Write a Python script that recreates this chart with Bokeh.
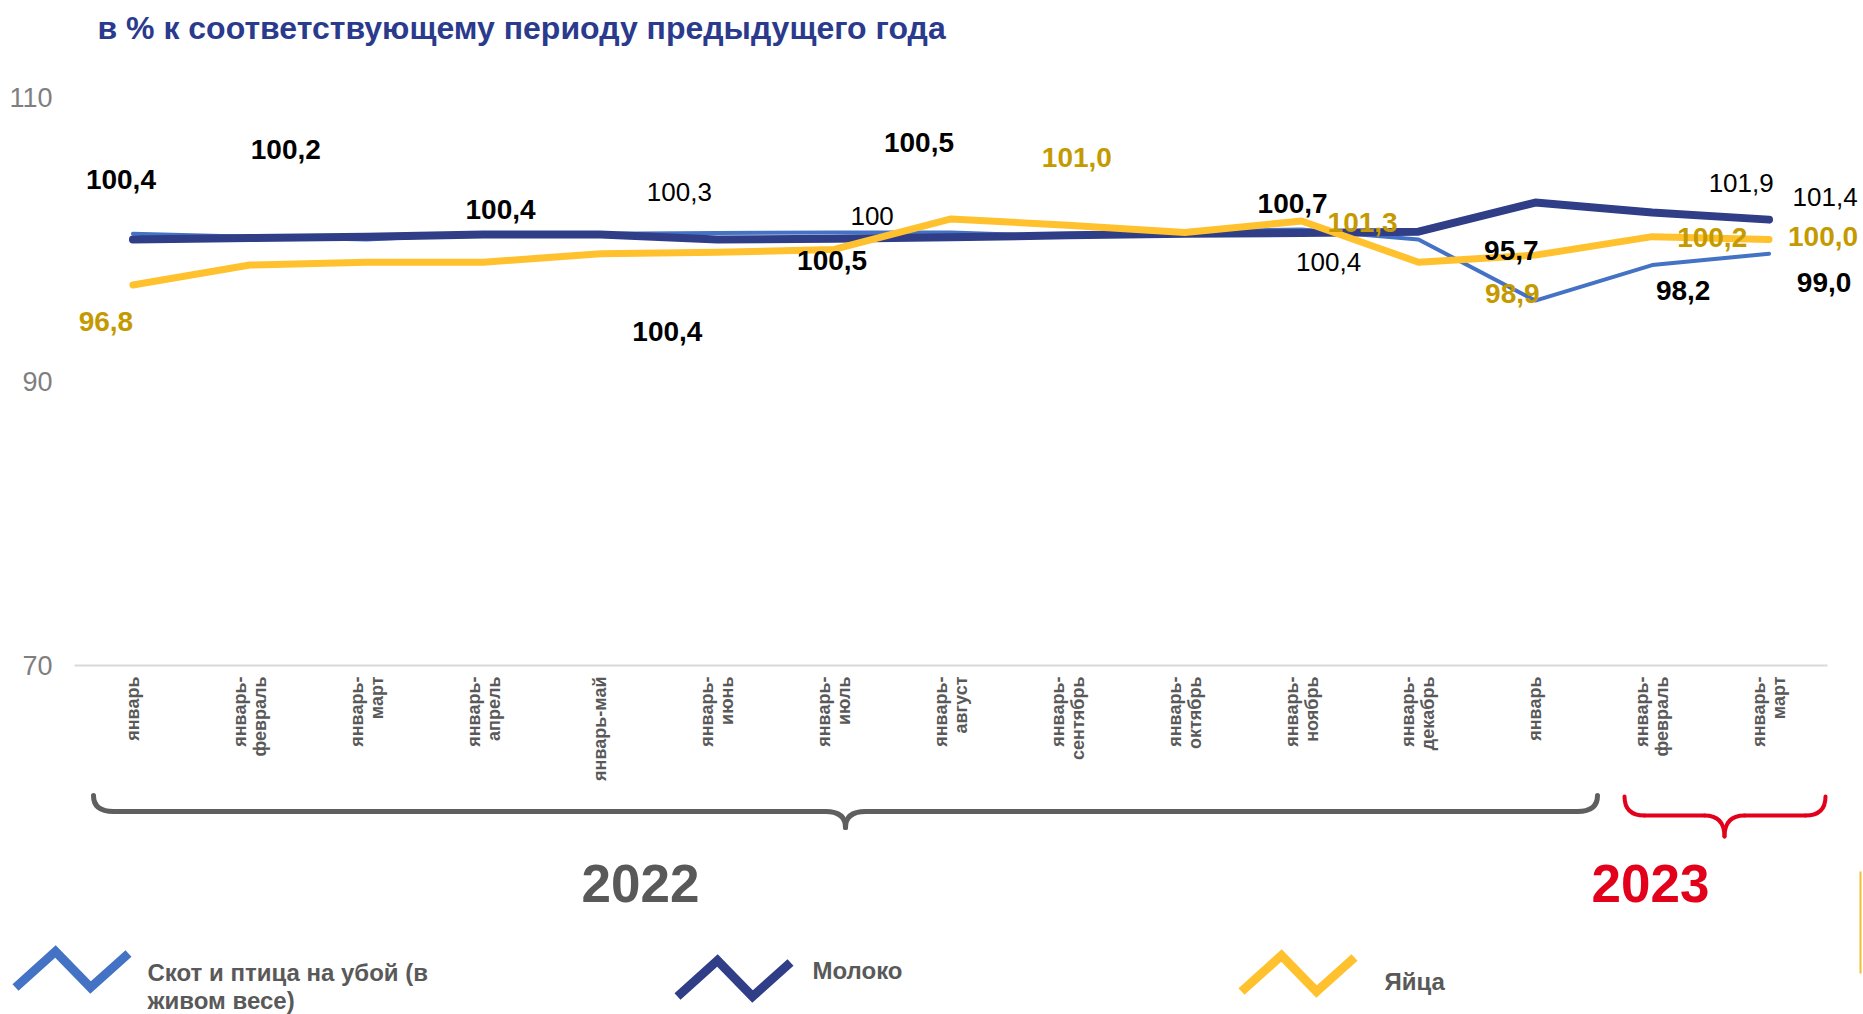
import math
from bokeh.plotting import figure
from bokeh.models import Range1d, FixedTicker, ColumnDataSource, LabelSet
from bokeh.embed import file_html
from bokeh.resources import INLINE
from bokeh.core.properties import value

# ---------------- data ----------------
periods = ["январь", "январь-\nфевраль", "январь-\nмарт", "январь-\nапрель", "январь-май",
           "январь-\nиюнь", "январь-\nиюль", "январь-\nавгуст", "январь-\nсентябрь",
           "январь-\nоктябрь", "январь-\nноябрь", "январь-\nдекабрь",
           "январь", "январь-\nфевраль", "январь-\nмарт"]
years = ["2022", "2023"]
series_names = ["Скот и птица на убой (в\nживом весе)", "Молоко", "Яйца"]
livestock = [100.4, 100.2, 100.0, 100.4, 100.4, 100.45, 100.5, 100.5, 100.2, 100.6, 100.7, 100.0, 95.7, 98.2, 99.0]
milk = [100.0, 100.1, 100.2, 100.35, 100.35, 100.0, 100.05, 100.15, 100.3, 100.4, 100.45, 100.55, 102.6, 101.9, 101.4]
eggs = [96.8, 98.2, 98.4, 98.4, 99.0, 99.1, 99.3, 101.45, 101.0, 100.5, 101.3, 98.4, 98.9, 100.2, 100.0]
y_ticks = [70, 90, 110]
title_text = "в % к соответствующему периоду предыдущего года"

# data labels: (index, text)
livestock_labels = [(0, "100,4"), (1, "100,2"), (3, "100,4"), (4, "100,4"), (6, "100,5"), (7, "100,5"),
                    (10, "100,7"), (12, "95,7"), (13, "98,2"), (14, "99,0")]
milk_labels = [(4, "100,3"), (6, "100"), (10, "100,4"), (13, "101,9"), (14, "101,4")]
eggs_labels = [(0, "96,8"), (8, "101,0"), (10, "101,3"), (12, "98,9"), (13, "100,2"), (14, "100,0")]

# label placement offsets in pixels (dx right, dy down)
livestock_off = {0: (-12, -54), 1: (36, -87), 3: (17, -24), 4: (67, 98), 6: (-2, 28), 7: (-32, -90),
                 10: (-9, -26), 12: (-24, -50), 13: (31, 25), 14: (55, 29)}
milk_off = {4: (79, -43), 6: (38, -23), 10: (27, 29), 13: (89, -30), 14: (56, -23)}
eggs_off = {0: (-27, 37), 8: (9, -68), 10: (61, 1), 12: (-23, 38), 13: (60, 1), 14: (54, -3)}

# ---------------- styles / layout ----------------
C_LIVE = "#4472C4"
C_MILK = "#2F3E87"
C_EGGS = "#FFC22E"
C_GOLD = "#C49A00"
C_TITLE = "#2A3A8C"
C_GRAY = "#595959"
C_RED = "#E2001A"
FONT = "Liberation Sans"

W, H = 1863, 1014           # canvas spans the page
PLOT_L, PLOT_R = 74, 1827   # page x of category band edges
Y_TOP, Y_BOT = 97, 665      # page y of 110 and 70
n = len(periods)
ppx = (PLOT_R - PLOT_L) / n
ppy = (Y_BOT - Y_TOP) / (y_ticks[-1] - y_ticks[0])


def px2x(px):
    return -0.5 + (px - PLOT_L) / ppx


def px2y(py):
    return y_ticks[-1] - (py - Y_TOP) / ppy


p = figure(width=W, height=H, output_backend="svg", toolbar_location=None,
           x_range=Range1d(px2x(0), px2x(W)), y_range=Range1d(px2y(H), px2y(0)),
           min_border=0)
p.outline_line_color = None
p.xgrid.grid_line_color = None
p.ygrid.grid_line_color = None
p.background_fill_color = "white"
p.border_fill_color = "white"

xs = list(range(n))
p.line(xs, livestock, line_color=C_LIVE, line_width=4, line_join="round", line_cap="round")
p.line(xs, milk, line_color=C_MILK, line_width=8, line_join="round", line_cap="round")
p.line(xs, eggs, line_color=C_EGGS, line_width=7, line_join="round", line_cap="round")

# axes (fixed inside the canvas)
p.yaxis.fixed_location = -0.5
p.yaxis.ticker = FixedTicker(ticks=y_ticks)
p.yaxis.axis_line_color = None
p.yaxis.major_tick_line_color = None
p.yaxis.minor_tick_line_color = None
p.yaxis.major_label_text_font = FONT
p.yaxis.major_label_text_font_size = "27px"
p.yaxis.major_label_text_color = "#7F7F7F"
p.yaxis.major_label_standoff = 16

p.xaxis.fixed_location = y_ticks[0]
p.xaxis.bounds = (-0.5, n - 0.5)
p.xaxis.ticker = FixedTicker(ticks=xs)
p.xaxis.major_label_overrides = {i: lab for i, lab in enumerate(periods)}
p.xaxis.major_label_orientation = math.pi / 2
p.xaxis.axis_line_color = "#D9D9D9"
p.xaxis.axis_line_width = 2
p.xaxis.major_tick_line_color = None
p.xaxis.minor_tick_line_color = None
p.xaxis.major_label_text_font = FONT
p.xaxis.major_label_text_font_style = "bold"
p.xaxis.major_label_text_font_size = "18px"
p.xaxis.major_label_text_color = C_GRAY
p.xaxis.major_label_text_line_height = 1.0
p.xaxis.major_label_text_align = "center"
p.xaxis.major_label_standoff = 5


def add_labels(series, labels, offs, color, style, size):
    src = ColumnDataSource(dict(
        x=[i for i, _ in labels],
        y=[series[i] for i, _ in labels],
        t=[t for _, t in labels],
        dx=[offs[i][0] for i, _ in labels],
        dy=[-offs[i][1] for i, _ in labels],
    ))
    ls = LabelSet(x="x", y="y", text="t", x_offset="dx", y_offset="dy", source=src,
                  text_align="center", text_baseline="middle", text_color=color,
                  text_font=value(FONT), text_font_style=style, text_font_size=size)
    p.add_layout(ls)


add_labels(livestock, livestock_labels, livestock_off, "black", "bold", "28px")
add_labels(milk, milk_labels, milk_off, "black", "normal", "26px")
add_labels(eggs, eggs_labels, eggs_off, C_GOLD, "bold", "28px")

# title
p.text(x=[px2x(97)], y=[px2y(27)], text=[title_text], text_align="left", text_baseline="middle",
       text_color=C_TITLE, text_font=value(FONT), text_font_style="bold", text_font_size="32px")


# ---------------- braces, years, legend ----------------
def brace(x0, x1, xc, ytop, yh, ytip, r, color, lw):
    X = lambda v: [px2x(a) for a in v]
    Y = lambda v: [px2y(a) for a in v]
    p.quadratic(x0=X([x0, xc - r, xc, x1 - r]), y0=Y([ytop, yh, ytip, yh]),
                x1=X([x0 + r, xc, xc + r, x1]), y1=Y([yh, ytip, yh, ytop]),
                cx=X([x0, xc, xc, x1]), cy=Y([yh, yh, yh, yh]),
                line_color=color, line_width=lw, line_cap="round")
    p.segment(x0=X([x0 + r, xc + r]), y0=Y([yh, yh]), x1=X([xc - r, x1 - r]), y1=Y([yh, yh]),
              line_color=color, line_width=lw, line_cap="round")


brace(93, 1597, 845, 795, 811, 827, 20, "#5F5F5F", 5)
brace(1624, 1825, 1724, 796, 815, 836, 20, C_RED, 4)

p.text(x=[px2x(640), px2x(1650)], y=[px2y(883), px2y(883)], text=years,
       text_color=["#595959", C_RED], text_align="center", text_baseline="middle",
       text_font=value(FONT), text_font_style="bold", text_font_size="53px")

icon_x = [15, 55, 90, 128]
icon_y = [987, 951, 987, 953]
for (ox, oy, col) in [(0, 0, C_LIVE), (662, 9, C_MILK), (1226, 4, C_EGGS)]:
    p.line([px2x(x + ox) for x in icon_x], [px2y(y + oy) for y in icon_y], line_color=col,
           line_width=9, line_join="miter")

# thin accent line at the right edge
p.segment(x0=[px2x(1860)], y0=[px2y(871)], x1=[px2x(1860)], y1=[px2y(973)],
          line_color="#F0C030", line_width=2)

leg_lines = series_names[0].split("\n")
p.text(x=[px2x(v) for v in [147, 147, 812, 1384]], y=[px2y(v) for v in [972, 1000, 970, 981]],
       text=[leg_lines[0], leg_lines[1], series_names[1], series_names[2]],
       text_color=C_GRAY, text_align="left", text_baseline="middle",
       text_font=value(FONT), text_font_style="bold", text_font_size="24px")

open("out.html", "w").write(file_html(p, INLINE))
